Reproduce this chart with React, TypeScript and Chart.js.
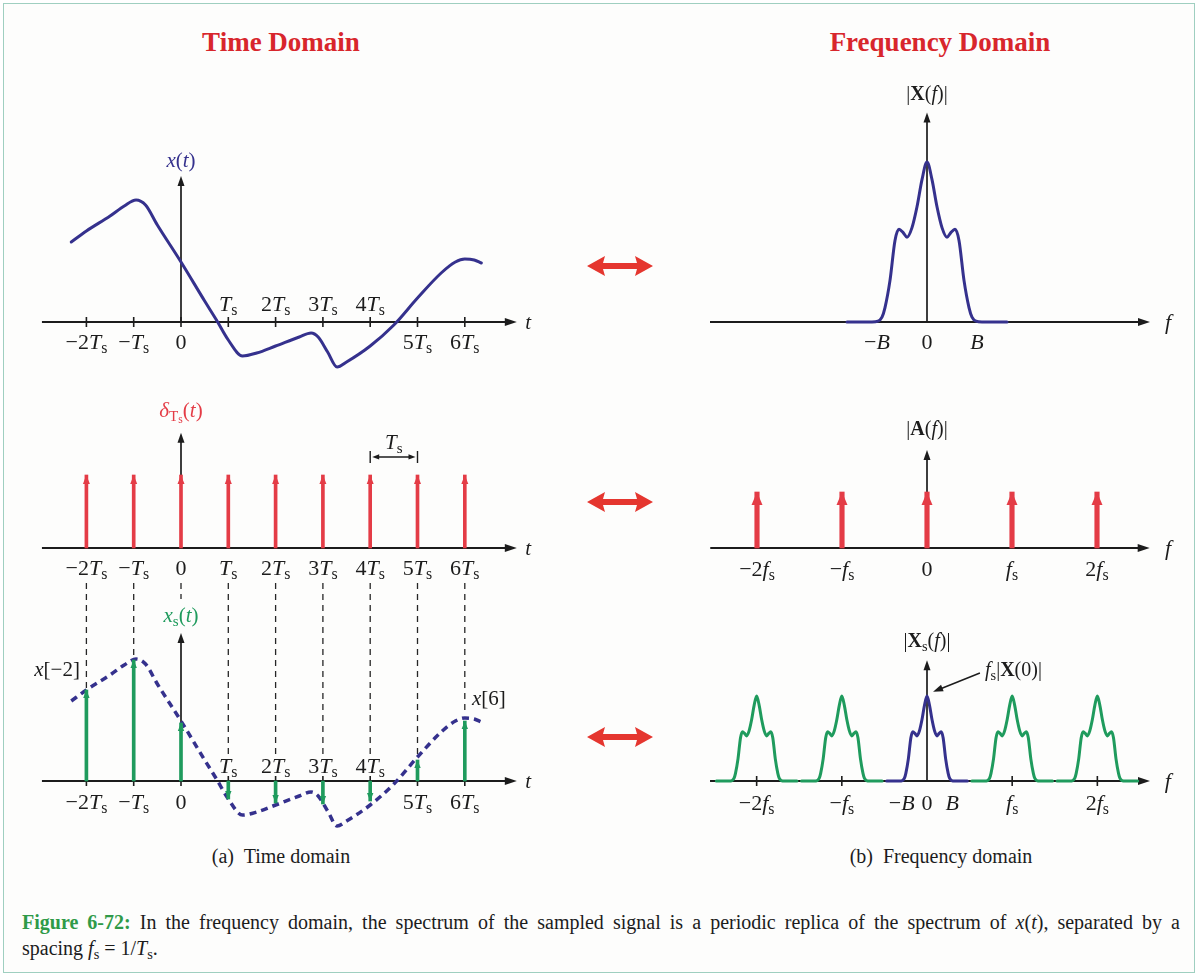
import React, { useEffect, useRef, useState } from 'react';
import { Chart, registerables } from 'chart.js';

Chart.register(...registerables);

// ---------------- data ----------------
const timeTickValues = [-2, -1, 0, 1, 2, 3, 4, 5, 6];
const timeTickLabels = ['−2*T*_s', '−*T*_s', '0', '*T*_s', '2*T*_s', '3*T*_s', '4*T*_s', '5*T*_s', '6*T*_s'];
const timeTicksAbove = [1, 2, 3, 4];

// continuous signal x(t), t in units of Ts
const xtT = [-2.32, -2.0, -1.5, -1.2, -0.95, -0.75, -0.5, 0, 0.5, 0.75, 1.0, 1.3, 1.6, 2.0, 2.5, 2.75, 2.9, 3.1, 3.3, 3.5, 4.0, 4.5, 5.0, 5.5, 5.8, 6.0, 6.2, 6.35];
const xtV = [0.80, 0.91, 1.06, 1.16, 1.22, 1.17, 0.97, 0.60, 0.21, 0.02, -0.18, -0.34, -0.31, -0.24, -0.15, -0.11, -0.15, -0.30, -0.45, -0.40, -0.24, -0.03, 0.24, 0.49, 0.60, 0.63, 0.62, 0.59];

// impulse train delta_Ts(t)
const combTimes = [-2, -1, 0, 1, 2, 3, 4, 5, 6];
const combHeights = [1, 1, 1, 1, 1, 1, 1, 1, 1];

// sampled signal x_s(t)
const sampleTimes = [-2, -1, 0, 1, 2, 3, 4, 5, 6];
const sampleValues = [0.91, 1.21, 0.58, -0.18, -0.22, -0.23, -0.2, 0.21, 0.6];
const guideTop = 1.98;
const guideEnds = [0.93, 1.24, 1.82, 0.22, 0.22, 0.22, 0.22, 0.25, 0.66];

// spectrum |X(f)|, f in units of B
const specF = [-1.6, -1.1, -0.98, -0.9, -0.84, -0.74, -0.64, -0.56, -0.48, -0.4, -0.3, -0.2, -0.1, 0, 0.1, 0.2, 0.3, 0.4, 0.48, 0.56, 0.64, 0.74, 0.84, 0.9, 0.98, 1.1, 1.6];
const specV = [0, 0, 0.005, 0.03, 0.09, 0.26, 0.51, 0.58, 0.56, 0.53, 0.59, 0.72, 0.89, 1.0, 0.89, 0.72, 0.59, 0.53, 0.56, 0.58, 0.51, 0.26, 0.09, 0.03, 0.005, 0, 0];
const bandTicks = [-1, 0, 1];
const bandLabels = ['−*B*', '0', '*B*'];

// impulse train |A(f)|, f in units of fs
const combFreqOrders = [-2, -1, 0, 1, 2];
const combFreqHeights = [1, 1, 1, 1, 1];
const combFreqLabels = ['−2*f*_s', '−*f*_s', '0', '*f*_s', '2*f*_s'];

// sampled spectrum |Xs(f)|
const fsInB = 3.38;
const replicaOrders = [-2, -1, 1, 2];
const replicaLabels = ['−2*f*_s', '−*f*_s', '*f*_s', '2*f*_s'];

// ---------------- style ----------------
const SERIF = '"Liberation Serif", "Times New Roman", "DejaVu Serif", serif';
const INK = '#1c1c1c';
const NAVY = '#35318d';
const RED = '#e43c46';
const TITLE_RED = '#d8262c';
const GREEN = '#1f9b5d';
const CAPTION_GREEN = '#2f9a48';
const TICK_SIZE = 22;

function Tex({ s }: { s: string }) {
  const out: React.ReactNode[] = [];
  let italic = false;
  let bold = false;
  let k = 0;
  let i = 0;
  while (i < s.length) {
    const c = s[i];
    if (c === '*') { italic = !italic; i++; continue; }
    if (c === '!') { bold = !bold; i++; continue; }
    if (c === '_' || c === '~') {
      const n = s[i + 1];
      const deep = c === '~';
      out.push(
        <span key={k++} style={{ position: 'relative', top: deep ? '0.5em' : '0.28em', fontSize: deep ? '0.55em' : '0.72em', fontStyle: 'normal', fontWeight: bold ? 'bold' : 'normal' }}>{n}</span>
      );
      i += 2;
      continue;
    }
    out.push(<span key={k++} style={{ fontStyle: italic ? 'italic' : 'normal', fontWeight: bold ? 'bold' : 'normal' }}>{c}</span>);
    i++;
  }
  return <>{out}</>;
}

function arrowHead(ctx: CanvasRenderingContext2D, tipX: number, tipY: number, dx: number, dy: number, len: number, half: number) {
  const n = Math.hypot(dx, dy);
  const ux = dx / n, uy = dy / n;
  const bx = tipX - ux * len, by = tipY - uy * len;
  ctx.beginPath();
  ctx.moveTo(tipX, tipY);
  ctx.lineTo(bx - uy * half, by + ux * half);
  ctx.lineTo(bx + uy * half, by - ux * half);
  ctx.closePath();
  ctx.fill();
}

function frame(left: number, top: number, width: number, height: number, zx: number, zy: number, sx: number, sy: number) {
  return {
    left, top, width, height,
    xMin: (left - zx) / sx, xMax: (left + width - zx) / sx,
    yMax: (zy - top) / sy, yMin: (zy - top - height) / sy,
  };
}

const pts = (xs: number[], ys: number[], shift = 0, scale = 1) => xs.map((x, i) => ({ x: x + shift, y: ys[i] * scale }));
const curve = (data: any[], color: string, width: number, dash: number[] = []) => ({
  type: 'line', data, borderColor: color, borderWidth: width, borderDash: dash,
  borderCapStyle: dash.length ? 'butt' : 'round', borderJoinStyle: 'round',
  pointRadius: 0, cubicInterpolationMode: 'monotone', fill: false,
});
const stems = (data: any[], color: string, thickness: number) => ({
  type: 'bar', data, backgroundColor: color, borderWidth: 0, barThickness: thickness,
});

function tickLabelSpecs(values: number[], texts: string[], dyFor: (v: number) => number, size = TICK_SIZE) {
  return values.map((v, i) => ({ x: v, y: 0, dy: dyFor(v), text: texts[i], size }));
}

// ---------------- panels ----------------
const PX_T = 47.3;

const panelTT: any = {
  frame: frame(20, 140, 530, 250, 181, 322, PX_T, 100),
  axis: { xFrom: -2.94, xTo: 7.1, yTo: 1.46, ticks: timeTickValues },
  datasets: [curve(pts(xtT, xtV), NAVY, 3)],
  labels: [
    ...tickLabelSpecs(timeTickValues, timeTickLabels, (v) => (timeTicksAbove.includes(v) ? -18 : 20)),
    { x: 7.34, y: 0, text: '*t*', size: 21 },
    { x: 0, y: 1.62, text: '*x*(*t*)', size: 21, color: NAVY },
  ],
};

const panelTM: any = {
  frame: frame(20, 400, 530, 180, 181, 548, PX_T, 73),
  axis: { xFrom: -2.94, xTo: 7.1, yTo: 1.58, ticks: [] },
  datasets: [stems(pts(combTimes, combHeights), RED, 3)],
  heads: [{ index: 0, len: 9, half: 3.5, color: RED }],
  labels: [
    ...tickLabelSpecs(timeTickValues, timeTickLabels, () => 20),
    { x: 7.34, y: 0, text: '*t*', size: 21 },
    { x: 0, y: 1.89, text: '*δ*_T~s(*t*)', size: 21, color: RED },
    { x: 4.5, y: 1.45, text: '*T*_s', size: 21 },
  ],
  extra: (chart: any) => {
    const { ctx } = chart;
    const xs = chart.scales.x, ys = chart.scales.y;
    const xa = xs.getPixelForValue(4), xb = xs.getPixelForValue(5), y = ys.getPixelForValue(1.247);
    ctx.save();
    ctx.strokeStyle = INK; ctx.fillStyle = INK; ctx.lineWidth = 1.4;
    ctx.beginPath();
    ctx.moveTo(xa, y - 6); ctx.lineTo(xa, y + 6);
    ctx.moveTo(xb, y - 6); ctx.lineTo(xb, y + 6);
    ctx.moveTo(xa + 7, y); ctx.lineTo(xb - 7, y);
    ctx.stroke();
    arrowHead(ctx, xa + 2, y, -1, 0, 7, 2.6);
    arrowHead(ctx, xb - 2, y, 1, 0, 7, 2.6);
    ctx.restore();
  },
};

const guideData: any[] = sampleTimes.flatMap((t, i) => [{ x: t, y: guideTop }, { x: t, y: guideEnds[i] }, { x: t, y: null }]);

const panelTB: any = {
  frame: frame(20, 575, 530, 265, 181, 781, PX_T, 100),
  axis: { xFrom: -2.94, xTo: 7.1, yTo: 1.48, ticks: timeTickValues },
  datasets: [
    stems(pts(sampleTimes, sampleValues), GREEN, 3),
    curve(pts(xtT, xtV), NAVY, 3.5, [7, 5]),
    { type: 'line', data: guideData, borderColor: '#262626', borderWidth: 1.3, borderDash: [6, 5], pointRadius: 0, tension: 0, spanGaps: false, fill: false },
  ],
  heads: [{ index: 0, len: 8, half: 3.2, color: GREEN }],
  labels: [
    ...tickLabelSpecs(timeTickValues, timeTickLabels, (v) => (timeTicksAbove.includes(v) ? -15 : 21)),
    { x: 7.34, y: 0, text: '*t*', size: 21 },
    { x: 0, y: 1.66, text: '*x*_s(*t*)', size: 21, color: GREEN },
    { x: -2.62, y: 1.12, text: '*x*[−2]', size: 21 },
    { x: 6.51, y: 0.83, text: '*x*[6]', size: 21 },
  ],
};

const panelFT: any = {
  frame: frame(690, 100, 480, 260, 927, 322, 50, 160),
  axis: { xFrom: -4.34, xTo: 4.46, yTo: 1.31, ticks: [] },
  datasets: [curve(pts(specF, specV), NAVY, 3)],
  labels: [
    ...tickLabelSpecs(bandTicks, bandLabels, () => 20),
    { x: 4.82, y: 0, text: '*f*', size: 22 },
    { x: 0, y: 1.43, text: '|!X!(*f*)|', size: 20 },
  ],
};

const panelFM: any = {
  frame: frame(690, 420, 480, 160, 927, 548, 85, 56),
  axis: { xFrom: -2.55, xTo: 2.62, yTo: 1.75, ticks: [] },
  datasets: [stems(pts(combFreqOrders, combFreqHeights), RED, 4.5)],
  heads: [{ index: 0, len: 13, half: 5.5, color: RED }],
  labels: [
    ...tickLabelSpecs(combFreqOrders, combFreqLabels, () => 21),
    { x: 2.835, y: 0, text: '*f*', size: 22 },
    { x: 0, y: 2.14, text: '|!A!(*f*)|', size: 20 },
  ],
};

const panelFB: any = {
  frame: frame(690, 640, 480, 190, 927, 781, 25.2, 85),
  axis: { xFrom: -8.61, xTo: 8.85, yTo: 1.42, ticks: replicaOrders.map((k) => k * fsInB) },
  datasets: [
    curve(pts(specF, specV), NAVY, 3),
    ...replicaOrders.map((k) => curve(pts(specF, specV, k * fsInB), GREEN, 3)),
  ],
  labels: [
    ...tickLabelSpecs(replicaOrders.map((k) => k * fsInB), replicaLabels, () => 22),
    ...tickLabelSpecs(bandTicks, bandLabels, () => 22),
    { x: 9.56, y: 0, text: '*f*', size: 22 },
    { x: 0, y: 1.66, text: '|!X!_s(*f*)|', size: 20 },
    { x: 2.3, y: 1.32, text: '*f*_s|!X!(0)|', size: 20, anchor: 'left' },
  ],
  extra: (chart: any) => {
    const { ctx } = chart;
    const xs = chart.scales.x, ys = chart.scales.y;
    const x1 = xs.getPixelForValue(2.1), y1 = ys.getPixelForValue(1.27);
    const x2 = xs.getPixelForValue(0.24), y2 = ys.getPixelForValue(1.05);
    ctx.save();
    ctx.strokeStyle = INK; ctx.fillStyle = INK; ctx.lineWidth = 1.5;
    ctx.beginPath(); ctx.moveTo(x1, y1); ctx.lineTo(x2 + (x1 - x2) * 0.15, y2 + (y1 - y2) * 0.15); ctx.stroke();
    arrowHead(ctx, x2, y2, x2 - x1, y2 - y1, 10, 3.5);
    ctx.restore();
  },
};

const panels = [panelTT, panelTM, panelTB, panelFT, panelFM, panelFB];

function makePlugin(spec: any) {
  return {
    id: 'figureAxes',
    beforeDatasetsDraw(chart: any) {
      const { ctx } = chart;
      const xs = chart.scales.x, ys = chart.scales.y;
      const a = spec.axis;
      const x0 = xs.getPixelForValue(0), y0 = ys.getPixelForValue(0);
      const xa = xs.getPixelForValue(a.xFrom), xb = xs.getPixelForValue(a.xTo), yt = ys.getPixelForValue(a.yTo);
      ctx.save();
      ctx.strokeStyle = INK; ctx.fillStyle = INK;
      ctx.lineWidth = 2.2;
      ctx.beginPath(); ctx.moveTo(xa, y0); ctx.lineTo(xb - 6, y0); ctx.stroke();
      arrowHead(ctx, xb, y0, 1, 0, 12, 4);
      ctx.lineWidth = 1.7;
      ctx.beginPath(); ctx.moveTo(x0, y0); ctx.lineTo(x0, yt + 6); ctx.stroke();
      arrowHead(ctx, x0, yt, 0, -1, 10, 3.5);
      ctx.lineWidth = 1.6;
      for (const t of a.ticks) {
        const px = xs.getPixelForValue(t);
        ctx.beginPath(); ctx.moveTo(px, y0 - 5); ctx.lineTo(px, y0 + 5); ctx.stroke();
      }
      ctx.restore();
    },
    afterDatasetsDraw(chart: any) {
      const { ctx } = chart;
      (spec.heads || []).forEach((h: any) => {
        const meta = chart.getDatasetMeta(h.index);
        meta.data.forEach((el: any) => {
          const dir = el.y <= el.base ? -1 : 1;
          ctx.save();
          ctx.fillStyle = h.color;
          arrowHead(ctx, el.x, el.y, 0, dir, h.len, h.half);
          ctx.restore();
        });
      });
      if (spec.extra) spec.extra(chart);
    },
  };
}

function Panel({ spec }: { spec: any }) {
  const ref = useRef<HTMLCanvasElement>(null);
  const [placed, setPlaced] = useState<any[]>([]);
  const f = spec.frame;
  useEffect(() => {
    const chart = new Chart(ref.current as HTMLCanvasElement, {
      type: 'line',
      data: { datasets: spec.datasets },
      options: {
        animation: false,
        responsive: false,
        maintainAspectRatio: false,
        events: [],
        layout: { padding: 0 },
        plugins: { legend: { display: false }, tooltip: { enabled: false }, title: { display: false } },
        scales: {
          x: { type: 'linear', min: f.xMin, max: f.xMax, display: false, offset: false },
          y: { type: 'linear', min: f.yMin, max: f.yMax, display: false },
        },
      },
      plugins: [makePlugin(spec)],
    } as any);
    const xs: any = chart.scales.x, ys: any = chart.scales.y;
    setPlaced(spec.labels.map((l: any) => ({ ...l, px: xs.getPixelForValue(l.x) + (l.dx || 0), py: ys.getPixelForValue(l.y) + (l.dy || 0) })));
    return () => chart.destroy();
  }, [spec]);
  return (
    <div style={{ position: 'absolute', left: f.left, top: f.top, width: f.width, height: f.height }}>
      <canvas ref={ref} width={f.width} height={f.height} style={{ position: 'absolute', left: 0, top: 0, width: f.width, height: f.height }} />
      {placed.map((l, i) => (
        <div key={i} style={{
          position: 'absolute', left: l.px, top: l.py,
          transform: l.anchor === 'left' ? 'translate(0,-50%)' : 'translate(-50%,-50%)',
          whiteSpace: 'nowrap', lineHeight: 1, fontSize: l.size || TICK_SIZE, color: l.color || INK, fontFamily: SERIF,
        }}>
          <Tex s={l.text} />
        </div>
      ))}
    </div>
  );
}

function DoubleArrow({ cx, cy }: { cx: number; cy: number }) {
  return (
    <svg style={{ position: 'absolute', left: cx - 33, top: cy - 10 }} width={66} height={20} viewBox="0 0 66 20">
      <polygon points="0,10 18,0 16,7 50,7 48,0 66,10 48,20 50,13 16,13 18,20" fill="#e5362f" />
    </svg>
  );
}

const centered = (x: number, y: number): React.CSSProperties => ({
  position: 'absolute', left: x, top: y, transform: 'translate(-50%,-50%)', whiteSpace: 'nowrap', lineHeight: 1,
});

export default function App() {
  return (
    <div style={{ position: 'fixed', left: 0, top: 0, width: 1199, height: 976, background: '#ffffff', overflow: 'hidden', fontFamily: SERIF, color: INK }}>
      <div style={{ position: 'absolute', left: 3, top: 3, width: 1190, height: 968, border: '1.5px solid #9fcfc0', background: '#fdfdfc' }} />
      <div style={{ ...centered(281, 42), fontSize: 27, fontWeight: 'bold', color: TITLE_RED }}>Time Domain</div>
      <div style={{ ...centered(940, 42), fontSize: 27, fontWeight: 'bold', color: TITLE_RED }}>Frequency Domain</div>
      {panels.map((p, i) => <Panel key={i} spec={p} />)}
      <DoubleArrow cx={620} cy={266} />
      <DoubleArrow cx={620} cy={502} />
      <DoubleArrow cx={620} cy={737} />
      <div style={{ ...centered(281, 856), fontSize: 20 }}>(a)&nbsp; Time domain</div>
      <div style={{ ...centered(941, 856), fontSize: 20 }}>(b)&nbsp; Frequency domain</div>
      <div style={{ position: 'absolute', left: 22, top: 909, width: 1158, fontSize: 20, lineHeight: '26px' }}>
        <div style={{ textAlign: 'justify', textAlignLast: 'justify' as any }}>
          <span style={{ color: CAPTION_GREEN, fontWeight: 'bold' }}>Figure 6-72:</span> In the frequency domain, the spectrum of the sampled signal is a periodic replica of the spectrum of <Tex s="*x*(*t*)" />, separated by a
        </div>
        <div>
          spacing <Tex s="*f*_s" />&nbsp;=&nbsp;1/<Tex s="*T*_s" />.
        </div>
      </div>
    </div>
  );
}
